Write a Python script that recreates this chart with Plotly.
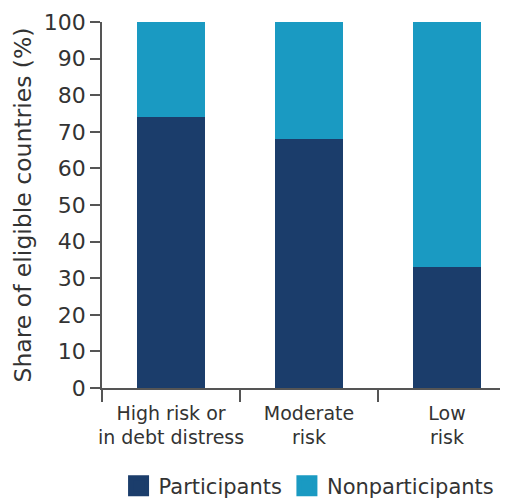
import plotly.graph_objects as go

categories = ["High risk or<br>in debt distress", "Moderate<br>risk", "Low<br>risk"]
participants = [74, 68, 33]
nonparticipants = [26, 32, 67]
y_ticks = list(range(0, 101, 10))

DARK = "#1b3d6b"
LIGHT = "#1a9ac2"
TXT = "#333333"
FONT = "DejaVu Sans"

fig = go.Figure()
fig.add_bar(x=categories, y=participants, marker=dict(color=DARK, line=dict(width=0)),
            name="Participants", showlegend=False)
fig.add_bar(x=categories, y=nonparticipants, marker=dict(color=LIGHT, line=dict(width=0)),
            name="Nonparticipants", showlegend=False)
# legend entries with larger square swatches
fig.add_scatter(x=[None], y=[None], mode="markers", name="Participants", legendgroup="a",
                marker=dict(symbol="square", size=16, color=DARK, line=dict(color=DARK, width=5)))
fig.add_scatter(x=[None], y=[None], mode="markers", name="Nonparticipants", legendgroup="b",
                marker=dict(symbol="square", size=16, color=LIGHT, line=dict(color=LIGHT, width=5)))

fig.update_layout(
    width=500, height=490,
    margin=dict(l=94, r=0, t=14, b=110, autoexpand=False),
    barmode="stack", bargap=0.51,
    plot_bgcolor="white", paper_bgcolor="white",
    font=dict(family=FONT, color=TXT, size=19),
    legend=dict(orientation="h", x=0.51, xanchor="center", y=-0.268, yanchor="middle",
                traceorder="grouped", tracegroupgap=18,
                font=dict(size=21, color=TXT), itemsizing="trace"),
)
fig.update_xaxes(
    range=[-0.5, 2.442], showline=True, linecolor="#555555", linewidth=1.5,
    ticks="outside", tickson="boundaries", ticklen=12, tickcolor="#555555", tickwidth=1.5,
    tickfont=dict(size=19, color=TXT), tickangle=0, ticklabelstandoff=7,
    showgrid=False, automargin=False,
)
fig.update_yaxes(
    range=[0, 100], tickvals=y_ticks, showline=True, linecolor="#555555", linewidth=1.5,
    ticks="outside", ticklen=10, tickcolor="#555555", tickwidth=1.5,
    tickfont=dict(size=22, color=TXT), showgrid=False, zeroline=False, automargin=False,
    title=dict(text="Share of eligible countries (%)", font=dict(size=23.5, color=TXT), standoff=6),
)

fig.write_html("out.html")
